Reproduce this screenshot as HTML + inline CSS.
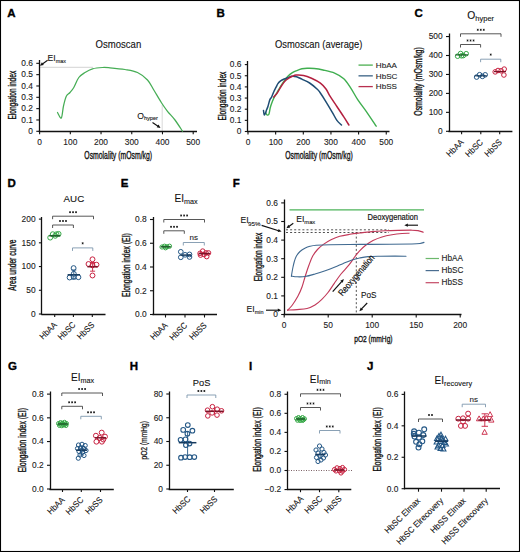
<!DOCTYPE html>
<html><head><meta charset="utf-8"><style>
html,body{margin:0;padding:0;background:#fff;}
svg{display:block;}
text{font-family:"Liberation Sans", sans-serif;}
</style></head><body>
<svg width="520" height="552" viewBox="0 0 520 552">
<rect x="0" y="0" width="520" height="552" fill="#fff"/>
<text x="7.2" y="17" font-size="11.5" text-anchor="start" font-weight="bold" fill="#000" stroke="#000" stroke-width="0.35">A</text>
<text x="118.4" y="48" font-size="10.3" text-anchor="middle" font-weight="normal" fill="#111" textLength="45.6" lengthAdjust="spacingAndGlyphs" stroke="#111" stroke-width="0.1">Osmoscan</text>
<line x1="40" y1="67.3" x2="93" y2="67.3" stroke="#c8c8c8" stroke-width="0.8" />
<line x1="162.2" y1="104.8" x2="162.2" y2="131" stroke="#d0d0d0" stroke-width="0.8" />
<line x1="39.5" y1="60" x2="39.5" y2="131.9" stroke="#111" stroke-width="1.3" />
<line x1="36.3" y1="131.3" x2="39.3" y2="131.3" stroke="#111" stroke-width="1.1" />
<text x="33" y="134.1" font-size="8.4" text-anchor="end" font-weight="normal" fill="#1a1a1a"  stroke="#1a1a1a" stroke-width="0.1">0</text>
<line x1="36.3" y1="119.97" x2="39.3" y2="119.97" stroke="#111" stroke-width="1.1" />
<text x="33" y="122.77" font-size="8.4" text-anchor="end" font-weight="normal" fill="#1a1a1a"  stroke="#1a1a1a" stroke-width="0.1">0.1</text>
<line x1="36.3" y1="108.64" x2="39.3" y2="108.64" stroke="#111" stroke-width="1.1" />
<text x="33" y="111.44" font-size="8.4" text-anchor="end" font-weight="normal" fill="#1a1a1a"  stroke="#1a1a1a" stroke-width="0.1">0.2</text>
<line x1="36.3" y1="97.31" x2="39.3" y2="97.31" stroke="#111" stroke-width="1.1" />
<text x="33" y="100.11" font-size="8.4" text-anchor="end" font-weight="normal" fill="#1a1a1a"  stroke="#1a1a1a" stroke-width="0.1">0.3</text>
<line x1="36.3" y1="85.98" x2="39.3" y2="85.98" stroke="#111" stroke-width="1.1" />
<text x="33" y="88.78" font-size="8.4" text-anchor="end" font-weight="normal" fill="#1a1a1a"  stroke="#1a1a1a" stroke-width="0.1">0.4</text>
<line x1="36.3" y1="74.65" x2="39.3" y2="74.65" stroke="#111" stroke-width="1.1" />
<text x="33" y="77.45" font-size="8.4" text-anchor="end" font-weight="normal" fill="#1a1a1a"  stroke="#1a1a1a" stroke-width="0.1">0.5</text>
<line x1="36.3" y1="63.32" x2="39.3" y2="63.32" stroke="#111" stroke-width="1.1" />
<text x="33" y="66.12" font-size="8.4" text-anchor="end" font-weight="normal" fill="#1a1a1a"  stroke="#1a1a1a" stroke-width="0.1">0.6</text>
<line x1="38.7" y1="131.5" x2="197" y2="131.5" stroke="#111" stroke-width="1.3" />
<line x1="39.6" y1="131.3" x2="39.6" y2="134.3" stroke="#111" stroke-width="1.1" />
<text x="39.6" y="145.2" font-size="8.4" text-anchor="middle" font-weight="normal" fill="#222"  stroke="#222" stroke-width="0.1">0</text>
<line x1="70.32" y1="131.3" x2="70.32" y2="134.3" stroke="#111" stroke-width="1.1" />
<text x="70.32" y="145.2" font-size="8.4" text-anchor="middle" font-weight="normal" fill="#222"  stroke="#222" stroke-width="0.1">100</text>
<line x1="101.04" y1="131.3" x2="101.04" y2="134.3" stroke="#111" stroke-width="1.1" />
<text x="101.04" y="145.2" font-size="8.4" text-anchor="middle" font-weight="normal" fill="#222"  stroke="#222" stroke-width="0.1">200</text>
<line x1="131.76" y1="131.3" x2="131.76" y2="134.3" stroke="#111" stroke-width="1.1" />
<text x="131.76" y="145.2" font-size="8.4" text-anchor="middle" font-weight="normal" fill="#222"  stroke="#222" stroke-width="0.1">300</text>
<line x1="162.48" y1="131.3" x2="162.48" y2="134.3" stroke="#111" stroke-width="1.1" />
<text x="162.48" y="145.2" font-size="8.4" text-anchor="middle" font-weight="normal" fill="#222"  stroke="#222" stroke-width="0.1">400</text>
<line x1="193.2" y1="131.3" x2="193.2" y2="134.3" stroke="#111" stroke-width="1.1" />
<text x="193.2" y="145.2" font-size="8.4" text-anchor="middle" font-weight="normal" fill="#222"  stroke="#222" stroke-width="0.1">500</text>
<text x="118.2" y="158.5" font-size="10" text-anchor="middle" fill="#111" stroke="#111" stroke-width="0.34" textLength="67.7" lengthAdjust="spacingAndGlyphs">Osmolality (mOsm/kg)</text>
<text transform="translate(15.8,95.2) rotate(-90)" font-size="10" text-anchor="middle" fill="#111" stroke="#111" stroke-width="0.34" textLength="48.8" lengthAdjust="spacingAndGlyphs">Elongation index</text>
<path d="M57.5,112.5 C58.13,113.42 60.3,119.08 61.3,118 C62.3,116.92 62.67,109.62 63.5,106 C64.33,102.38 65.22,98.55 66.3,96.3 C67.38,94.05 68.75,93.97 70,92.5 C71.25,91.03 72.33,90 73.8,87.5 C75.27,85 76.93,80 78.8,77.5 C80.67,75 82.72,73.95 85,72.5 C87.28,71.05 89.58,69.63 92.5,68.8 C95.42,67.97 99.58,67.67 102.5,67.5 C105.42,67.33 106.25,67.47 110,67.8 C113.75,68.13 120.42,68.72 125,69.5 C129.58,70.28 133.75,70.75 137.5,72.5 C141.25,74.25 144.78,77.08 147.5,80 C150.22,82.92 151.5,86.25 153.8,90 C156.1,93.75 159.02,98.95 161.3,102.5 C163.58,106.05 165.22,108.38 167.5,111.3 C169.78,114.22 172.5,116.68 175,120 C177.5,123.32 181.25,129.33 182.5,131.2" fill="none" stroke="#46ad55" stroke-width="1.25" stroke-linejoin="round" stroke-linecap="round" />
<text x="47.6" y="61.2" font-size="8.6" fill="#111" stroke="#111" stroke-width="0.1">EI<tspan font-size="5.4" dy="1.5">max</tspan></text>
<line x1="47.6" y1="60.3" x2="42.44" y2="63.92" stroke="#111" stroke-width="1.15" />
<polygon points="39.9,65.7 41.92,62.31 43.78,64.96" fill="#111"/>
<text x="137.2" y="118.6" font-size="8.6" fill="#111" stroke="#111" stroke-width="0.1">O<tspan font-size="5.6" dy="1.5">hyper</tspan></text>
<line x1="152.5" y1="122.5" x2="158.02" y2="126.18" stroke="#111" stroke-width="1.15" />
<polygon points="160.6,127.9 156.71,127.25 158.5,124.56" fill="#111"/>
<text x="216.5" y="17.1" font-size="11.5" text-anchor="start" font-weight="bold" fill="#000" stroke="#000" stroke-width="0.35">B</text>
<text x="318.7" y="48" font-size="10.3" text-anchor="middle" font-weight="normal" fill="#111" textLength="87.4" lengthAdjust="spacingAndGlyphs" stroke="#111" stroke-width="0.1">Osmoscan (average)</text>
<line x1="247.5" y1="61" x2="247.5" y2="132.1" stroke="#111" stroke-width="1.3" />
<line x1="244.8" y1="131.5" x2="247.8" y2="131.5" stroke="#111" stroke-width="1.1" />
<text x="241.5" y="134.3" font-size="8.4" text-anchor="end" font-weight="normal" fill="#1a1a1a"  stroke="#1a1a1a" stroke-width="0.1">0</text>
<line x1="244.8" y1="120.35" x2="247.8" y2="120.35" stroke="#111" stroke-width="1.1" />
<text x="241.5" y="123.15" font-size="8.4" text-anchor="end" font-weight="normal" fill="#1a1a1a"  stroke="#1a1a1a" stroke-width="0.1">0.1</text>
<line x1="244.8" y1="109.2" x2="247.8" y2="109.2" stroke="#111" stroke-width="1.1" />
<text x="241.5" y="112" font-size="8.4" text-anchor="end" font-weight="normal" fill="#1a1a1a"  stroke="#1a1a1a" stroke-width="0.1">0.2</text>
<line x1="244.8" y1="98.05" x2="247.8" y2="98.05" stroke="#111" stroke-width="1.1" />
<text x="241.5" y="100.85" font-size="8.4" text-anchor="end" font-weight="normal" fill="#1a1a1a"  stroke="#1a1a1a" stroke-width="0.1">0.3</text>
<line x1="244.8" y1="86.9" x2="247.8" y2="86.9" stroke="#111" stroke-width="1.1" />
<text x="241.5" y="89.7" font-size="8.4" text-anchor="end" font-weight="normal" fill="#1a1a1a"  stroke="#1a1a1a" stroke-width="0.1">0.4</text>
<line x1="244.8" y1="75.75" x2="247.8" y2="75.75" stroke="#111" stroke-width="1.1" />
<text x="241.5" y="78.55" font-size="8.4" text-anchor="end" font-weight="normal" fill="#1a1a1a"  stroke="#1a1a1a" stroke-width="0.1">0.5</text>
<line x1="244.8" y1="64.6" x2="247.8" y2="64.6" stroke="#111" stroke-width="1.1" />
<text x="241.5" y="67.4" font-size="8.4" text-anchor="end" font-weight="normal" fill="#1a1a1a"  stroke="#1a1a1a" stroke-width="0.1">0.6</text>
<line x1="247.2" y1="131.5" x2="389.5" y2="131.5" stroke="#111" stroke-width="1.3" />
<line x1="248" y1="131.5" x2="248" y2="134.5" stroke="#111" stroke-width="1.1" />
<text x="248" y="145.4" font-size="8.4" text-anchor="middle" font-weight="normal" fill="#222"  stroke="#222" stroke-width="0.1">0</text>
<line x1="275.65" y1="131.5" x2="275.65" y2="134.5" stroke="#111" stroke-width="1.1" />
<text x="275.65" y="145.4" font-size="8.4" text-anchor="middle" font-weight="normal" fill="#222"  stroke="#222" stroke-width="0.1">100</text>
<line x1="303.3" y1="131.5" x2="303.3" y2="134.5" stroke="#111" stroke-width="1.1" />
<text x="303.3" y="145.4" font-size="8.4" text-anchor="middle" font-weight="normal" fill="#222"  stroke="#222" stroke-width="0.1">200</text>
<line x1="330.95" y1="131.5" x2="330.95" y2="134.5" stroke="#111" stroke-width="1.1" />
<text x="330.95" y="145.4" font-size="8.4" text-anchor="middle" font-weight="normal" fill="#222"  stroke="#222" stroke-width="0.1">300</text>
<line x1="358.6" y1="131.5" x2="358.6" y2="134.5" stroke="#111" stroke-width="1.1" />
<text x="358.6" y="145.4" font-size="8.4" text-anchor="middle" font-weight="normal" fill="#222"  stroke="#222" stroke-width="0.1">400</text>
<line x1="386.25" y1="131.5" x2="386.25" y2="134.5" stroke="#111" stroke-width="1.1" />
<text x="386.25" y="145.4" font-size="8.4" text-anchor="middle" font-weight="normal" fill="#222"  stroke="#222" stroke-width="0.1">500</text>
<text x="319" y="158.5" font-size="10" text-anchor="middle" fill="#111" stroke="#111" stroke-width="0.34" textLength="67.5" lengthAdjust="spacingAndGlyphs">Osmolality (mOsm/kg)</text>
<text transform="translate(225.6,96) rotate(-90)" font-size="10" text-anchor="middle" fill="#111" stroke="#111" stroke-width="0.34" textLength="48.8" lengthAdjust="spacingAndGlyphs">Elongation index</text>
<path d="M265.5,112.5 C265.75,112.88 266.43,114.5 267,114.8 C267.57,115.1 268.37,115.43 268.9,114.3 C269.43,113.17 269.75,109.8 270.2,108 C270.65,106.2 271,105.15 271.6,103.5 C272.2,101.85 272.9,99.92 273.8,98.1 C274.7,96.28 275.87,94.57 277,92.6 C278.13,90.63 279.4,88.25 280.6,86.3 C281.8,84.35 282.98,82.57 284.2,80.9 C285.42,79.23 286.53,77.67 287.9,76.3 C289.27,74.93 291.05,73.6 292.4,72.7 C293.75,71.8 294.42,71.57 296,70.9 C297.58,70.23 299.9,69.13 301.9,68.7 C303.9,68.27 305.95,68.33 308,68.3 C310.05,68.27 311.7,68.22 314.2,68.5 C316.7,68.78 319.6,69.23 323,70 C326.4,70.77 331.13,71.63 334.6,73.1 C338.07,74.57 341.1,76.3 343.8,78.8 C346.5,81.3 348.48,84.63 350.8,88.1 C353.12,91.57 355.02,95.57 357.7,99.6 C360.38,103.63 363.82,107.87 366.9,112.3 C369.98,116.73 374.65,123.88 376.2,126.2" fill="none" stroke="#3fae4f" stroke-width="1.4" stroke-linejoin="round" stroke-linecap="round" />
<path d="M263.5,110.5 C263.62,111.22 263.87,114.38 264.2,114.8 C264.53,115.22 265.1,113.83 265.5,113 C265.9,112.17 266.18,110.93 266.6,109.8 C267.02,108.67 267.47,107.85 268,106.2 C268.53,104.55 269.2,101.42 269.8,99.9 C270.4,98.38 270.93,98.47 271.6,97.1 C272.27,95.73 273.05,93.35 273.8,91.7 C274.55,90.05 275.42,88.55 276.1,87.2 C276.78,85.85 277.15,84.65 277.9,83.6 C278.65,82.55 279.55,81.67 280.6,80.9 C281.65,80.13 282.98,79.53 284.2,79 C285.42,78.47 286.68,78.15 287.9,77.7 C289.12,77.25 290.45,76.5 291.5,76.3 C292.55,76.1 293.15,76.35 294.2,76.5 C295.25,76.65 296.52,76.75 297.8,77.2 C299.08,77.65 299.93,78.23 301.9,79.2 C303.87,80.17 307.03,81.33 309.6,83 C312.17,84.67 315.57,87.62 317.3,89.2 C319.03,90.78 318.65,90.57 320,92.5 C321.35,94.43 323.35,97.5 325.4,100.8 C327.45,104.1 330.38,109.03 332.3,112.3 C334.22,115.57 335.37,118.28 336.9,120.4 C338.43,122.52 340.73,124.23 341.5,125" fill="none" stroke="#1f4d74" stroke-width="1.5" stroke-linejoin="round" stroke-linecap="round" />
<path d="M273.8,97.1 C274.42,96.35 276.22,94.48 277.5,92.6 C278.78,90.72 280.23,87.75 281.5,85.8 C282.77,83.85 283.88,82.18 285.1,80.9 C286.32,79.62 287.58,78.87 288.8,78.1 C290.02,77.33 291.2,76.82 292.4,76.3 C293.6,75.78 294.15,75.15 296,75 C297.85,74.85 300.92,74.87 303.5,75.4 C306.08,75.93 308.68,76.92 311.5,78.2 C314.32,79.48 317.98,81.3 320.4,83.1 C322.82,84.9 324.4,86.82 326,89 C327.6,91.18 328.18,93.28 330,96.2 C331.82,99.12 334.6,103.05 336.9,106.5 C339.2,109.95 341.8,113.82 343.8,116.9 C345.8,119.98 348.05,123.65 348.9,125" fill="none" stroke="#b3203f" stroke-width="1.5" stroke-linejoin="round" stroke-linecap="round" />
<line x1="358.5" y1="65.1" x2="372.8" y2="65.1" stroke="#4caf50" stroke-width="1.3" />
<text x="375.8" y="67.8" font-size="8.1" text-anchor="start" font-weight="normal" fill="#1a1a1a" stroke="#1a1a1a" stroke-width="0.1">HbAA</text>
<line x1="358.5" y1="75.85" x2="372.8" y2="75.85" stroke="#3a6285" stroke-width="1.3" />
<text x="375.8" y="78.55" font-size="8.1" text-anchor="start" font-weight="normal" fill="#1a1a1a" stroke="#1a1a1a" stroke-width="0.1">HbSC</text>
<line x1="358.5" y1="86.6" x2="372.8" y2="86.6" stroke="#b8304f" stroke-width="1.3" />
<text x="375.8" y="89.3" font-size="8.1" text-anchor="start" font-weight="normal" fill="#1a1a1a" stroke="#1a1a1a" stroke-width="0.1">HbSS</text>
<text x="414.6" y="17.1" font-size="11.5" text-anchor="start" font-weight="bold" fill="#000" stroke="#000" stroke-width="0.35">C</text>
<text x="467.3" y="18.9" font-size="10.3" fill="#111" stroke="#111" stroke-width="0.1">O<tspan font-size="7.5" dy="1.9">hyper</tspan></text>
<line x1="449.5" y1="33.5" x2="449.5" y2="131.9" stroke="#111" stroke-width="1.3" />
<line x1="446" y1="131.3" x2="449" y2="131.3" stroke="#111" stroke-width="1.1" />
<text x="442.7" y="134.1" font-size="8.4" text-anchor="end" font-weight="normal" fill="#1a1a1a"  stroke="#1a1a1a" stroke-width="0.1">0</text>
<line x1="446" y1="112.35" x2="449" y2="112.35" stroke="#111" stroke-width="1.1" />
<text x="442.7" y="115.15" font-size="8.4" text-anchor="end" font-weight="normal" fill="#1a1a1a"  stroke="#1a1a1a" stroke-width="0.1">100</text>
<line x1="446" y1="93.4" x2="449" y2="93.4" stroke="#111" stroke-width="1.1" />
<text x="442.7" y="96.2" font-size="8.4" text-anchor="end" font-weight="normal" fill="#1a1a1a"  stroke="#1a1a1a" stroke-width="0.1">200</text>
<line x1="446" y1="74.45" x2="449" y2="74.45" stroke="#111" stroke-width="1.1" />
<text x="442.7" y="77.25" font-size="8.4" text-anchor="end" font-weight="normal" fill="#1a1a1a"  stroke="#1a1a1a" stroke-width="0.1">300</text>
<line x1="446" y1="55.5" x2="449" y2="55.5" stroke="#111" stroke-width="1.1" />
<text x="442.7" y="58.3" font-size="8.4" text-anchor="end" font-weight="normal" fill="#1a1a1a"  stroke="#1a1a1a" stroke-width="0.1">400</text>
<line x1="446" y1="36.55" x2="449" y2="36.55" stroke="#111" stroke-width="1.1" />
<text x="442.7" y="39.35" font-size="8.4" text-anchor="end" font-weight="normal" fill="#1a1a1a"  stroke="#1a1a1a" stroke-width="0.1">500</text>
<line x1="448.4" y1="131.5" x2="512.4" y2="131.5" stroke="#111" stroke-width="1.3" />
<line x1="461.6" y1="131.3" x2="461.6" y2="134.3" stroke="#111" stroke-width="1.1" />
<line x1="480.8" y1="131.3" x2="480.8" y2="134.3" stroke="#111" stroke-width="1.1" />
<line x1="499.7" y1="131.3" x2="499.7" y2="134.3" stroke="#111" stroke-width="1.1" />
<text transform="translate(464.3,142.9) rotate(-45)" font-size="8.6" text-anchor="end" fill="#111" stroke="#111" stroke-width="0.1" textLength="20.51" lengthAdjust="spacingAndGlyphs">HbAA</text>
<text transform="translate(483.5,142.9) rotate(-45)" font-size="8.6" text-anchor="end" fill="#111" stroke="#111" stroke-width="0.1" textLength="20.94" lengthAdjust="spacingAndGlyphs">HbSC</text>
<text transform="translate(502.4,142.9) rotate(-45)" font-size="8.6" text-anchor="end" fill="#111" stroke="#111" stroke-width="0.1" textLength="20.51" lengthAdjust="spacingAndGlyphs">HbSS</text>
<text transform="translate(422.3,81.5) rotate(-90)" font-size="10" text-anchor="middle" fill="#111" stroke="#111" stroke-width="0.34" textLength="68.5" lengthAdjust="spacingAndGlyphs">Osmolality (mOsm/kg)</text>
<path d="M460.5,36.8 V33.8 H501 V36.8" fill="none" stroke="#444" stroke-width="0.9"/>
<path d="M477.75,28.8L477.75,30.8M476.88,29.3L478.62,30.3M478.62,29.3L476.88,30.3" stroke="#111" stroke-width="0.75" fill="none"/>
<path d="M480.75,28.8L480.75,30.8M479.88,29.3L481.62,30.3M481.62,29.3L479.88,30.3" stroke="#111" stroke-width="0.75" fill="none"/>
<path d="M483.75,28.8L483.75,30.8M482.88,29.3L484.62,30.3M484.62,29.3L482.88,30.3" stroke="#111" stroke-width="0.75" fill="none"/>
<path d="M460.5,47.5 V44.5 H480.6 V47.5" fill="none" stroke="#444" stroke-width="0.9"/>
<path d="M467.55,39.5L467.55,41.5M466.68,40L468.42,41M468.42,40L466.68,41" stroke="#111" stroke-width="0.75" fill="none"/>
<path d="M470.55,39.5L470.55,41.5M469.68,40L471.42,41M471.42,40L469.68,41" stroke="#111" stroke-width="0.75" fill="none"/>
<path d="M473.55,39.5L473.55,41.5M472.68,40L474.42,41M474.42,40L472.68,41" stroke="#111" stroke-width="0.75" fill="none"/>
<path d="M480.6,62.2 V59.2 H500.8 V62.2" fill="none" stroke="#7d96ad" stroke-width="0.9"/>
<path d="M490.7,53.6L490.7,55.6M489.83,54.1L491.57,55.1M491.57,54.1L489.83,55.1" stroke="#111" stroke-width="0.75" fill="none"/>
<circle cx="457.6" cy="56.2" r="2.3" fill="none" stroke="#35a846" stroke-width="1.0"/>
<circle cx="460.6" cy="53.5" r="2.3" fill="none" stroke="#35a846" stroke-width="1.0"/>
<circle cx="463.3" cy="55.6" r="2.3" fill="none" stroke="#35a846" stroke-width="1.0"/>
<circle cx="466.2" cy="53.7" r="2.3" fill="none" stroke="#35a846" stroke-width="1.0"/>
<circle cx="461.5" cy="55.8" r="2.3" fill="none" stroke="#35a846" stroke-width="1.0"/>
<line x1="455.6" y1="54.9" x2="468" y2="54.9" stroke="#1e5c2a" stroke-width="1.2" />
<circle cx="476.6" cy="77.1" r="2.3" fill="none" stroke="#255886" stroke-width="1.0"/>
<circle cx="479.6" cy="74.7" r="2.3" fill="none" stroke="#255886" stroke-width="1.0"/>
<circle cx="482.4" cy="76.4" r="2.3" fill="none" stroke="#255886" stroke-width="1.0"/>
<circle cx="485.2" cy="74.8" r="2.3" fill="none" stroke="#255886" stroke-width="1.0"/>
<line x1="474.8" y1="75.8" x2="486.8" y2="75.8" stroke="#163a5e" stroke-width="1.2" />
<circle cx="495.2" cy="71.9" r="2.3" fill="none" stroke="#c8203f" stroke-width="1.0"/>
<circle cx="498" cy="70.5" r="2.3" fill="none" stroke="#c8203f" stroke-width="1.0"/>
<circle cx="501.1" cy="70.8" r="2.3" fill="none" stroke="#c8203f" stroke-width="1.0"/>
<circle cx="504.2" cy="69.1" r="2.3" fill="none" stroke="#c8203f" stroke-width="1.0"/>
<circle cx="503.9" cy="75" r="2.3" fill="none" stroke="#c8203f" stroke-width="1.0"/>
<line x1="494" y1="71.6" x2="506" y2="71.6" stroke="#7a1428" stroke-width="1.2" />
<text x="7.6" y="186.8" font-size="11.5" text-anchor="start" font-weight="bold" fill="#000" stroke="#000" stroke-width="0.35">D</text>
<text x="73.9" y="201.6" font-size="9.8" text-anchor="middle" font-weight="normal" fill="#111" textLength="20.6" lengthAdjust="spacingAndGlyphs" stroke="#111" stroke-width="0.1">AUC</text>
<line x1="41.5" y1="217" x2="41.5" y2="314.6" stroke="#111" stroke-width="1.3" />
<line x1="38.9" y1="314" x2="41.9" y2="314" stroke="#111" stroke-width="1.1" />
<text x="35.6" y="316.8" font-size="8.4" text-anchor="end" font-weight="normal" fill="#1a1a1a"  stroke="#1a1a1a" stroke-width="0.1">0</text>
<line x1="38.9" y1="290.27" x2="41.9" y2="290.27" stroke="#111" stroke-width="1.1" />
<text x="35.6" y="293.07" font-size="8.4" text-anchor="end" font-weight="normal" fill="#1a1a1a"  stroke="#1a1a1a" stroke-width="0.1">50</text>
<line x1="38.9" y1="266.55" x2="41.9" y2="266.55" stroke="#111" stroke-width="1.1" />
<text x="35.6" y="269.35" font-size="8.4" text-anchor="end" font-weight="normal" fill="#1a1a1a"  stroke="#1a1a1a" stroke-width="0.1">100</text>
<line x1="38.9" y1="242.82" x2="41.9" y2="242.82" stroke="#111" stroke-width="1.1" />
<text x="35.6" y="245.62" font-size="8.4" text-anchor="end" font-weight="normal" fill="#1a1a1a"  stroke="#1a1a1a" stroke-width="0.1">150</text>
<line x1="38.9" y1="219.1" x2="41.9" y2="219.1" stroke="#111" stroke-width="1.1" />
<text x="35.6" y="221.9" font-size="8.4" text-anchor="end" font-weight="normal" fill="#1a1a1a"  stroke="#1a1a1a" stroke-width="0.1">200</text>
<line x1="41.3" y1="314.5" x2="105.5" y2="314.5" stroke="#111" stroke-width="1.3" />
<line x1="54.7" y1="314" x2="54.7" y2="317" stroke="#111" stroke-width="1.1" />
<line x1="73.4" y1="314" x2="73.4" y2="317" stroke="#111" stroke-width="1.1" />
<line x1="92.3" y1="314" x2="92.3" y2="317" stroke="#111" stroke-width="1.1" />
<text transform="translate(57.4,325.6) rotate(-45)" font-size="8.6" text-anchor="end" fill="#111" stroke="#111" stroke-width="0.1" textLength="20.51" lengthAdjust="spacingAndGlyphs">HbAA</text>
<text transform="translate(76.1,325.6) rotate(-45)" font-size="8.6" text-anchor="end" fill="#111" stroke="#111" stroke-width="0.1" textLength="20.94" lengthAdjust="spacingAndGlyphs">HbSC</text>
<text transform="translate(95,325.6) rotate(-45)" font-size="8.6" text-anchor="end" fill="#111" stroke="#111" stroke-width="0.1" textLength="20.51" lengthAdjust="spacingAndGlyphs">HbSS</text>
<text transform="translate(16.2,265.1) rotate(-90)" font-size="10" text-anchor="middle" fill="#111" stroke="#111" stroke-width="0.34" textLength="51.2" lengthAdjust="spacingAndGlyphs">Area under curve</text>
<path d="M52.6,219.2 V216.2 H93.5 V219.2" fill="none" stroke="#444" stroke-width="0.9"/>
<path d="M70.05,211.2L70.05,213.2M69.18,211.7L70.92,212.7M70.92,211.7L69.18,212.7" stroke="#111" stroke-width="0.75" fill="none"/>
<path d="M73.05,211.2L73.05,213.2M72.18,211.7L73.92,212.7M73.92,211.7L72.18,212.7" stroke="#111" stroke-width="0.75" fill="none"/>
<path d="M76.05,211.2L76.05,213.2M75.18,211.7L76.92,212.7M76.92,211.7L75.18,212.7" stroke="#111" stroke-width="0.75" fill="none"/>
<path d="M52.6,228 V225 H73.4 V228" fill="none" stroke="#444" stroke-width="0.9"/>
<path d="M60,220L60,222M59.13,220.5L60.87,221.5M60.87,220.5L59.13,221.5" stroke="#111" stroke-width="0.75" fill="none"/>
<path d="M63,220L63,222M62.13,220.5L63.87,221.5M63.87,220.5L62.13,221.5" stroke="#111" stroke-width="0.75" fill="none"/>
<path d="M66,220L66,222M65.13,220.5L66.87,221.5M66.87,220.5L65.13,221.5" stroke="#111" stroke-width="0.75" fill="none"/>
<path d="M72.5,250.9 V247.9 H92.8 V250.9" fill="none" stroke="#7d96ad" stroke-width="0.9"/>
<path d="M82.65,242.3L82.65,244.3M81.78,242.8L83.52,243.8M83.52,242.8L81.78,243.8" stroke="#111" stroke-width="0.75" fill="none"/>
<circle cx="50.2" cy="237.6" r="2.45" fill="none" stroke="#35a846" stroke-width="1.0"/>
<circle cx="52.8" cy="234.2" r="2.45" fill="none" stroke="#35a846" stroke-width="1.0"/>
<circle cx="55.2" cy="235.8" r="2.45" fill="none" stroke="#35a846" stroke-width="1.0"/>
<circle cx="58.6" cy="233.9" r="2.45" fill="none" stroke="#35a846" stroke-width="1.0"/>
<circle cx="56.5" cy="234.2" r="2.45" fill="none" stroke="#35a846" stroke-width="1.0"/>
<line x1="49.3" y1="235.8" x2="60.3" y2="235.8" stroke="#1e5c2a" stroke-width="1.5" />
<circle cx="73.6" cy="268.1" r="2.45" fill="none" stroke="#255886" stroke-width="1.0"/>
<circle cx="69.6" cy="277.5" r="2.45" fill="none" stroke="#255886" stroke-width="1.0"/>
<circle cx="73.6" cy="276.8" r="2.45" fill="none" stroke="#255886" stroke-width="1.0"/>
<circle cx="78.4" cy="277.2" r="2.45" fill="none" stroke="#255886" stroke-width="1.0"/>
<circle cx="73.8" cy="273.8" r="2.45" fill="none" stroke="#255886" stroke-width="1.0"/>
<line x1="67.6" y1="274.8" x2="80" y2="274.8" stroke="#163a5e" stroke-width="1.5" />
<line x1="73.8" y1="270" x2="73.8" y2="279" stroke="#255886" stroke-width="0.9" />
<line x1="71.3" y1="270" x2="76.3" y2="270" stroke="#255886" stroke-width="0.9" />
<line x1="71.3" y1="279" x2="76.3" y2="279" stroke="#255886" stroke-width="0.9" />
<circle cx="92.5" cy="259.3" r="2.45" fill="none" stroke="#c8203f" stroke-width="1.0"/>
<circle cx="88.5" cy="264" r="2.45" fill="none" stroke="#c8203f" stroke-width="1.0"/>
<circle cx="96.5" cy="264.7" r="2.45" fill="none" stroke="#c8203f" stroke-width="1.0"/>
<circle cx="92.5" cy="265.4" r="2.45" fill="none" stroke="#c8203f" stroke-width="1.0"/>
<circle cx="92.5" cy="275.5" r="2.45" fill="none" stroke="#c8203f" stroke-width="1.0"/>
<line x1="87.4" y1="266.7" x2="97.8" y2="266.7" stroke="#7a1428" stroke-width="1.5" />
<line x1="92.6" y1="262.5" x2="92.6" y2="271.2" stroke="#c8203f" stroke-width="0.9" />
<line x1="90.1" y1="262.5" x2="95.1" y2="262.5" stroke="#c8203f" stroke-width="0.9" />
<line x1="90.1" y1="271.2" x2="95.1" y2="271.2" stroke="#c8203f" stroke-width="0.9" />
<text x="120.8" y="186.8" font-size="11.5" text-anchor="start" font-weight="bold" fill="#000" stroke="#000" stroke-width="0.35">E</text>
<text x="174.6" y="201.9" font-size="10" fill="#111" stroke="#111" stroke-width="0.1">EI<tspan font-size="7.2" dy="1.9">max</tspan></text>
<line x1="153.5" y1="217" x2="153.5" y2="315.1" stroke="#111" stroke-width="1.3" />
<line x1="150" y1="314.5" x2="153" y2="314.5" stroke="#111" stroke-width="1.1" />
<text x="146.7" y="317.3" font-size="8.4" text-anchor="end" font-weight="normal" fill="#1a1a1a"  stroke="#1a1a1a" stroke-width="0.1">0.0</text>
<line x1="150" y1="290.75" x2="153" y2="290.75" stroke="#111" stroke-width="1.1" />
<text x="146.7" y="293.55" font-size="8.4" text-anchor="end" font-weight="normal" fill="#1a1a1a"  stroke="#1a1a1a" stroke-width="0.1">0.2</text>
<line x1="150" y1="267" x2="153" y2="267" stroke="#111" stroke-width="1.1" />
<text x="146.7" y="269.8" font-size="8.4" text-anchor="end" font-weight="normal" fill="#1a1a1a"  stroke="#1a1a1a" stroke-width="0.1">0.4</text>
<line x1="150" y1="243.25" x2="153" y2="243.25" stroke="#111" stroke-width="1.1" />
<text x="146.7" y="246.05" font-size="8.4" text-anchor="end" font-weight="normal" fill="#1a1a1a"  stroke="#1a1a1a" stroke-width="0.1">0.6</text>
<line x1="150" y1="219.5" x2="153" y2="219.5" stroke="#111" stroke-width="1.1" />
<text x="146.7" y="222.3" font-size="8.4" text-anchor="end" font-weight="normal" fill="#1a1a1a"  stroke="#1a1a1a" stroke-width="0.1">0.8</text>
<line x1="152.4" y1="314.5" x2="217" y2="314.5" stroke="#111" stroke-width="1.3" />
<line x1="165.5" y1="314.5" x2="165.5" y2="317.5" stroke="#111" stroke-width="1.1" />
<line x1="185" y1="314.5" x2="185" y2="317.5" stroke="#111" stroke-width="1.1" />
<line x1="204.5" y1="314.5" x2="204.5" y2="317.5" stroke="#111" stroke-width="1.1" />
<text transform="translate(168.2,326.1) rotate(-45)" font-size="8.6" text-anchor="end" fill="#111" stroke="#111" stroke-width="0.1" textLength="20.51" lengthAdjust="spacingAndGlyphs">HbAA</text>
<text transform="translate(187.7,326.1) rotate(-45)" font-size="8.6" text-anchor="end" fill="#111" stroke="#111" stroke-width="0.1" textLength="20.94" lengthAdjust="spacingAndGlyphs">HbSC</text>
<text transform="translate(207.2,326.1) rotate(-45)" font-size="8.6" text-anchor="end" fill="#111" stroke="#111" stroke-width="0.1" textLength="20.51" lengthAdjust="spacingAndGlyphs">HbSS</text>
<text transform="translate(130.2,265) rotate(-90)" font-size="10" text-anchor="middle" fill="#111" stroke="#111" stroke-width="0.34" textLength="63.8" lengthAdjust="spacingAndGlyphs">Elongation index (EI)</text>
<path d="M163.8,222.5 V219.5 H204.5 V222.5" fill="none" stroke="#444" stroke-width="0.9"/>
<path d="M181.15,214.5L181.15,216.5M180.28,215L182.02,216M182.02,215L180.28,216" stroke="#111" stroke-width="0.75" fill="none"/>
<path d="M184.15,214.5L184.15,216.5M183.28,215L185.02,216M185.02,215L183.28,216" stroke="#111" stroke-width="0.75" fill="none"/>
<path d="M187.15,214.5L187.15,216.5M186.28,215L188.02,216M188.02,215L186.28,216" stroke="#111" stroke-width="0.75" fill="none"/>
<path d="M163.8,233.8 V230.8 H184.3 V233.8" fill="none" stroke="#444" stroke-width="0.9"/>
<path d="M171.05,225.8L171.05,227.8M170.18,226.3L171.92,227.3M171.92,226.3L170.18,227.3" stroke="#111" stroke-width="0.75" fill="none"/>
<path d="M174.05,225.8L174.05,227.8M173.18,226.3L174.92,227.3M174.92,226.3L173.18,227.3" stroke="#111" stroke-width="0.75" fill="none"/>
<path d="M177.05,225.8L177.05,227.8M176.18,226.3L177.92,227.3M177.92,226.3L176.18,227.3" stroke="#111" stroke-width="0.75" fill="none"/>
<path d="M183.3,245.5 V242.5 H204.3 V245.5" fill="none" stroke="#7d96ad" stroke-width="0.9"/>
<text x="193.8" y="240.3" font-size="8" text-anchor="middle" font-weight="normal" fill="#222"  stroke="#222" stroke-width="0.1">ns</text>
<circle cx="162" cy="247" r="2.1" fill="none" stroke="#35a846" stroke-width="1.0"/>
<circle cx="164.5" cy="246.2" r="2.1" fill="none" stroke="#35a846" stroke-width="1.0"/>
<circle cx="167" cy="246.8" r="2.1" fill="none" stroke="#35a846" stroke-width="1.0"/>
<circle cx="169.5" cy="246.2" r="2.1" fill="none" stroke="#35a846" stroke-width="1.0"/>
<circle cx="165.5" cy="247.8" r="2.1" fill="none" stroke="#35a846" stroke-width="1.0"/>
<line x1="160.8" y1="246.8" x2="170.8" y2="246.8" stroke="#1e5c2a" stroke-width="1.5" />
<circle cx="180.8" cy="251.8" r="2.35" fill="none" stroke="#255886" stroke-width="1.0"/>
<circle cx="180.8" cy="257.3" r="2.35" fill="none" stroke="#255886" stroke-width="1.0"/>
<circle cx="185.1" cy="254.8" r="2.35" fill="none" stroke="#255886" stroke-width="1.0"/>
<circle cx="189.5" cy="254.4" r="2.35" fill="none" stroke="#255886" stroke-width="1.0"/>
<circle cx="189.5" cy="257" r="2.35" fill="none" stroke="#255886" stroke-width="1.0"/>
<line x1="180.3" y1="255.1" x2="191.3" y2="255.1" stroke="#163a5e" stroke-width="1.5" />
<circle cx="200.1" cy="253.3" r="2.3" fill="none" stroke="#c8203f" stroke-width="1.0"/>
<circle cx="202.7" cy="251.1" r="2.3" fill="none" stroke="#c8203f" stroke-width="1.0"/>
<circle cx="206" cy="252.9" r="2.3" fill="none" stroke="#c8203f" stroke-width="1.0"/>
<circle cx="208.5" cy="252.9" r="2.3" fill="none" stroke="#c8203f" stroke-width="1.0"/>
<circle cx="200.5" cy="255.1" r="2.3" fill="none" stroke="#c8203f" stroke-width="1.0"/>
<circle cx="206.7" cy="256.6" r="2.3" fill="none" stroke="#c8203f" stroke-width="1.0"/>
<circle cx="204" cy="254.5" r="2.3" fill="none" stroke="#c8203f" stroke-width="1.0"/>
<line x1="199" y1="253.6" x2="210" y2="253.6" stroke="#7a1428" stroke-width="1.5" />
<text x="232.8" y="186.8" font-size="11.5" text-anchor="start" font-weight="bold" fill="#000" stroke="#000" stroke-width="0.35">F</text>
<line x1="284.5" y1="199.5" x2="284.5" y2="315.1" stroke="#111" stroke-width="1.3" />
<line x1="281.2" y1="314.5" x2="284.2" y2="314.5" stroke="#111" stroke-width="1.1" />
<text x="277.9" y="317.3" font-size="8.4" text-anchor="end" font-weight="normal" fill="#1a1a1a"  stroke="#1a1a1a" stroke-width="0.1">0</text>
<line x1="281.2" y1="295.9" x2="284.2" y2="295.9" stroke="#111" stroke-width="1.1" />
<text x="277.9" y="298.7" font-size="8.4" text-anchor="end" font-weight="normal" fill="#1a1a1a"  stroke="#1a1a1a" stroke-width="0.1">0.1</text>
<line x1="281.2" y1="277.3" x2="284.2" y2="277.3" stroke="#111" stroke-width="1.1" />
<text x="277.9" y="280.1" font-size="8.4" text-anchor="end" font-weight="normal" fill="#1a1a1a"  stroke="#1a1a1a" stroke-width="0.1">0.2</text>
<line x1="281.2" y1="258.7" x2="284.2" y2="258.7" stroke="#111" stroke-width="1.1" />
<text x="277.9" y="261.5" font-size="8.4" text-anchor="end" font-weight="normal" fill="#1a1a1a"  stroke="#1a1a1a" stroke-width="0.1">0.3</text>
<line x1="281.2" y1="240.1" x2="284.2" y2="240.1" stroke="#111" stroke-width="1.1" />
<text x="277.9" y="242.9" font-size="8.4" text-anchor="end" font-weight="normal" fill="#1a1a1a"  stroke="#1a1a1a" stroke-width="0.1">0.4</text>
<line x1="281.2" y1="221.5" x2="284.2" y2="221.5" stroke="#111" stroke-width="1.1" />
<text x="277.9" y="224.3" font-size="8.4" text-anchor="end" font-weight="normal" fill="#1a1a1a"  stroke="#1a1a1a" stroke-width="0.1">0.5</text>
<line x1="281.2" y1="202.9" x2="284.2" y2="202.9" stroke="#111" stroke-width="1.1" />
<text x="277.9" y="205.7" font-size="8.4" text-anchor="end" font-weight="normal" fill="#1a1a1a"  stroke="#1a1a1a" stroke-width="0.1">0.6</text>
<line x1="283.6" y1="314.5" x2="461.5" y2="314.5" stroke="#111" stroke-width="1.3" />
<line x1="284.2" y1="314.5" x2="284.2" y2="317.5" stroke="#111" stroke-width="1.1" />
<text x="284.2" y="328.4" font-size="8.4" text-anchor="middle" font-weight="normal" fill="#222"  stroke="#222" stroke-width="0.1">0</text>
<line x1="328.2" y1="314.5" x2="328.2" y2="317.5" stroke="#111" stroke-width="1.1" />
<text x="328.2" y="328.4" font-size="8.4" text-anchor="middle" font-weight="normal" fill="#222"  stroke="#222" stroke-width="0.1">50</text>
<line x1="372.2" y1="314.5" x2="372.2" y2="317.5" stroke="#111" stroke-width="1.1" />
<text x="372.2" y="328.4" font-size="8.4" text-anchor="middle" font-weight="normal" fill="#222"  stroke="#222" stroke-width="0.1">100</text>
<line x1="416.2" y1="314.5" x2="416.2" y2="317.5" stroke="#111" stroke-width="1.1" />
<text x="416.2" y="328.4" font-size="8.4" text-anchor="middle" font-weight="normal" fill="#222"  stroke="#222" stroke-width="0.1">150</text>
<line x1="460.2" y1="314.5" x2="460.2" y2="317.5" stroke="#111" stroke-width="1.1" />
<text x="460.2" y="328.4" font-size="8.4" text-anchor="middle" font-weight="normal" fill="#222"  stroke="#222" stroke-width="0.1">200</text>
<text x="373.4" y="342" font-size="9.3" text-anchor="middle" fill="#111" stroke="#111" stroke-width="0.34" textLength="38.3" lengthAdjust="spacingAndGlyphs">pO2 (mmHg)</text>
<text transform="translate(262,257) rotate(-90)" font-size="10" text-anchor="middle" fill="#111" stroke="#111" stroke-width="0.34" textLength="48.5" lengthAdjust="spacingAndGlyphs">Elongation index</text>
<line x1="289.5" y1="209.9" x2="424" y2="209.9" stroke="#4cb35a" stroke-width="1.35" />
<line x1="286" y1="229.8" x2="389" y2="229.8" stroke="#333" stroke-width="0.85" stroke-dasharray="2,2.1"/>
<line x1="286" y1="232.5" x2="389" y2="232.5" stroke="#333" stroke-width="0.85" stroke-dasharray="2,2.1"/>
<line x1="356.3" y1="232.5" x2="356.3" y2="314" stroke="#333" stroke-width="0.85" stroke-dasharray="2,2.1"/>
<path d="M287.6,310.1 C288.33,309.33 290.27,307.85 292,305.5 C293.73,303.15 296.33,299.08 298,296 C299.67,292.92 300.78,290.33 302,287 C303.22,283.67 304.13,279.67 305.3,276 C306.47,272.33 307.78,268.3 309,265 C310.22,261.7 311.18,258.78 312.6,256.2 C314.02,253.62 315.7,251.47 317.5,249.5 C319.3,247.53 321.15,246.02 323.4,244.4 C325.65,242.78 328.28,241.15 331,239.8 C333.72,238.45 336.53,237.22 339.7,236.3 C342.87,235.38 346.68,234.85 350,234.3 C353.32,233.75 355.93,233.45 359.6,233 C363.27,232.55 367.77,231.97 372,231.6 C376.23,231.23 380.67,231 385,230.8 C389.33,230.6 393.5,230.5 398,230.4 C402.5,230.3 408.67,230.17 412,230.2 C415.33,230.23 416.12,230.27 418,230.6 C419.88,230.93 422.42,231.93 423.3,232.2" fill="none" stroke="#c23a5a" stroke-width="1.15" stroke-linejoin="round" stroke-linecap="round" />
<path d="M287.6,310.1 C289.17,310.02 293.77,309.87 297,309.6 C300.23,309.33 304,309.27 307,308.5 C310,307.73 312.57,306.48 315,305 C317.43,303.52 319.43,301.68 321.6,299.6 C323.77,297.52 325.88,295.22 328,292.5 C330.12,289.78 332.13,286.38 334.3,283.3 C336.47,280.22 338.58,277.02 341,274 C343.42,270.98 346.47,268.12 348.8,265.2 C351.13,262.28 353.2,258.9 355,256.5 C356.8,254.1 357.77,252.72 359.6,250.8 C361.43,248.88 363.77,246.72 366,245 C368.23,243.28 370.33,241.83 373,240.5 C375.67,239.17 378.83,237.95 382,237 C385.17,236.05 388.67,235.38 392,234.8 C395.33,234.22 399.17,233.77 402,233.5 C404.83,233.23 407.83,233.25 409,233.2" fill="none" stroke="#c23a5a" stroke-width="1.15" stroke-linejoin="round" stroke-linecap="round" />
<path d="M291.4,276.1 C291.63,274.75 292.33,270.35 292.8,268 C293.27,265.65 293.62,263.97 294.2,262 C294.78,260.03 295.33,257.95 296.3,256.2 C297.27,254.45 298.5,252.87 300,251.5 C301.5,250.13 303.63,248.87 305.3,248 C306.97,247.13 308.18,246.75 310,246.3 C311.82,245.85 312.87,245.57 316.2,245.3 C319.53,245.03 322.7,244.85 330,244.7 C337.3,244.55 350,244.47 360,244.4 C370,244.33 381.33,244.37 390,244.3 C398.67,244.23 407,244.13 412,244 C417,243.87 418,243.77 420,243.5 C422,243.23 423.33,242.58 424,242.4" fill="none" stroke="#3f6990" stroke-width="1.1" stroke-linejoin="round" stroke-linecap="round" />
<path d="M291.4,276.1 C292.33,276.22 294.68,276.73 297,276.8 C299.32,276.87 302.3,276.97 305.3,276.5 C308.3,276.03 311.68,274.97 315,274 C318.32,273.03 321.87,271.87 325.2,270.7 C328.53,269.53 331.98,268.22 335,267 C338.02,265.78 340.47,264.57 343.3,263.4 C346.13,262.23 349.28,260.9 352,260 C354.72,259.1 356.93,258.57 359.6,258 C362.27,257.43 364.6,256.9 368,256.6 C371.4,256.3 375.5,256.28 380,256.2 C384.5,256.12 390.67,256.1 395,256.1 C399.33,256.1 404.17,256.18 406,256.2" fill="none" stroke="#3f6990" stroke-width="1.1" stroke-linejoin="round" stroke-linecap="round" />
<text x="240.6" y="223.4" font-size="8.6" text-anchor="start" font-weight="normal" fill="#111"  stroke="#111" stroke-width="0.1">EI</text>
<text x="248.1" y="225.6" font-size="6.0" text-anchor="start" font-weight="normal" fill="#111" textLength="12.6" lengthAdjust="spacingAndGlyphs" stroke="#111" stroke-width="0.1">95%</text>
<line x1="261.6" y1="225.4" x2="278.64" y2="230.68" stroke="#111" stroke-width="1.15" />
<polygon points="281.6,231.6 277.68,232.08 278.64,228.99" fill="#111"/>
<text x="296.2" y="221.6" font-size="8.6" fill="#111" stroke="#111" stroke-width="0.1">EI<tspan font-size="5.8" dy="2.1">max</tspan></text>
<line x1="293.3" y1="223.2" x2="288.89" y2="226.46" stroke="#111" stroke-width="1.15" />
<polygon points="286.4,228.3 288.33,224.86 290.26,227.46" fill="#111"/>
<text x="246.6" y="312.2" font-size="8.6" fill="#111" stroke="#111" stroke-width="0.1">EI<tspan font-size="5.5" dy="1.8">min</tspan></text>
<line x1="266" y1="310.2" x2="278.3" y2="310.2" stroke="#111" stroke-width="1.15" />
<polygon points="281.4,310.2 277.8,311.82 277.8,308.58" fill="#111"/>
<text x="367.5" y="220.3" font-size="8.8" text-anchor="start" font-weight="normal" fill="#111" stroke="#111" stroke-width="0.18" textLength="50.5" lengthAdjust="spacingAndGlyphs">Deoxygenation</text>
<line x1="418" y1="225.2" x2="407.4" y2="225.2" stroke="#111" stroke-width="1.15" />
<polygon points="404.3,225.2 407.9,223.58 407.9,226.82" fill="#111"/>
<text transform="translate(342.6,296.6) rotate(-50)" font-size="9.4" fill="#111" stroke="#111" stroke-width="0.2" textLength="50.5" lengthAdjust="spacingAndGlyphs">Reoxygenation</text>
<line x1="332.7" y1="291.7" x2="341.85" y2="281.33" stroke="#111" stroke-width="1.2" />
<polygon points="343.9,279 342.73,282.77 340.3,280.63" fill="#111"/>
<text x="361" y="298.4" font-size="8.2" text-anchor="start" font-weight="normal" fill="#111"  stroke="#111" stroke-width="0.1">PoS</text>
<line x1="367.2" y1="303" x2="361.54" y2="308.95" stroke="#111" stroke-width="1.15" />
<polygon points="359.4,311.2 360.71,307.48 363.05,309.71" fill="#111"/>
<line x1="425.6" y1="258.5" x2="439" y2="258.5" stroke="#6cb86c" stroke-width="1.2" />
<text x="441.6" y="260.9" font-size="8.2" text-anchor="start" font-weight="normal" fill="#222"  stroke="#222" stroke-width="0.1">HbAA</text>
<line x1="425.6" y1="270.6" x2="439" y2="270.6" stroke="#4a6d90" stroke-width="1.2" />
<text x="441.6" y="273" font-size="8.2" text-anchor="start" font-weight="normal" fill="#222"  stroke="#222" stroke-width="0.1">HbSC</text>
<line x1="425.6" y1="282.7" x2="439" y2="282.7" stroke="#c44a66" stroke-width="1.2" />
<text x="441.6" y="285.1" font-size="8.2" text-anchor="start" font-weight="normal" fill="#222"  stroke="#222" stroke-width="0.1">HbSS</text>
<text x="7.9" y="369.7" font-size="11.5" text-anchor="start" font-weight="bold" fill="#000" stroke="#000" stroke-width="0.35">G</text>
<text x="71" y="380.9" font-size="10" fill="#111" stroke="#111" stroke-width="0.1">EI<tspan font-size="7.2" dy="1.6">max</tspan></text>
<line x1="50.5" y1="391.5" x2="50.5" y2="489.6" stroke="#111" stroke-width="1.3" />
<line x1="47" y1="489" x2="50" y2="489" stroke="#111" stroke-width="1.1" />
<text x="43.7" y="491.8" font-size="8.4" text-anchor="end" font-weight="normal" fill="#1a1a1a"  stroke="#1a1a1a" stroke-width="0.1">0.0</text>
<line x1="47" y1="465.28" x2="50" y2="465.28" stroke="#111" stroke-width="1.1" />
<text x="43.7" y="468.08" font-size="8.4" text-anchor="end" font-weight="normal" fill="#1a1a1a"  stroke="#1a1a1a" stroke-width="0.1">0.2</text>
<line x1="47" y1="441.56" x2="50" y2="441.56" stroke="#111" stroke-width="1.1" />
<text x="43.7" y="444.36" font-size="8.4" text-anchor="end" font-weight="normal" fill="#1a1a1a"  stroke="#1a1a1a" stroke-width="0.1">0.4</text>
<line x1="47" y1="417.84" x2="50" y2="417.84" stroke="#111" stroke-width="1.1" />
<text x="43.7" y="420.64" font-size="8.4" text-anchor="end" font-weight="normal" fill="#1a1a1a"  stroke="#1a1a1a" stroke-width="0.1">0.6</text>
<line x1="47" y1="394.12" x2="50" y2="394.12" stroke="#111" stroke-width="1.1" />
<text x="43.7" y="396.92" font-size="8.4" text-anchor="end" font-weight="normal" fill="#1a1a1a"  stroke="#1a1a1a" stroke-width="0.1">0.8</text>
<line x1="49.4" y1="489.5" x2="113.8" y2="489.5" stroke="#111" stroke-width="1.3" />
<line x1="62.5" y1="489" x2="62.5" y2="492" stroke="#111" stroke-width="1.1" />
<line x1="81.3" y1="489" x2="81.3" y2="492" stroke="#111" stroke-width="1.1" />
<line x1="100.5" y1="489" x2="100.5" y2="492" stroke="#111" stroke-width="1.1" />
<text transform="translate(65.2,500.6) rotate(-45)" font-size="8.6" text-anchor="end" fill="#111" stroke="#111" stroke-width="0.1" textLength="20.51" lengthAdjust="spacingAndGlyphs">HbAA</text>
<text transform="translate(84,500.6) rotate(-45)" font-size="8.6" text-anchor="end" fill="#111" stroke="#111" stroke-width="0.1" textLength="20.94" lengthAdjust="spacingAndGlyphs">HbSC</text>
<text transform="translate(103.2,500.6) rotate(-45)" font-size="8.6" text-anchor="end" fill="#111" stroke="#111" stroke-width="0.1" textLength="20.51" lengthAdjust="spacingAndGlyphs">HbSS</text>
<text transform="translate(26.2,440.2) rotate(-90)" font-size="10" text-anchor="middle" fill="#111" stroke="#111" stroke-width="0.34" textLength="64.3" lengthAdjust="spacingAndGlyphs">Elongation index (EI)</text>
<path d="M61.8,396 V393 H102.5 V396" fill="none" stroke="#444" stroke-width="0.9"/>
<path d="M79.15,388L79.15,390M78.28,388.5L80.02,389.5M80.02,388.5L78.28,389.5" stroke="#111" stroke-width="0.75" fill="none"/>
<path d="M82.15,388L82.15,390M81.28,388.5L83.02,389.5M83.02,388.5L81.28,389.5" stroke="#111" stroke-width="0.75" fill="none"/>
<path d="M85.15,388L85.15,390M84.28,388.5L86.02,389.5M86.02,388.5L84.28,389.5" stroke="#111" stroke-width="0.75" fill="none"/>
<path d="M61.8,409.3 V406.3 H82.5 V409.3" fill="none" stroke="#444" stroke-width="0.9"/>
<path d="M69.15,401.3L69.15,403.3M68.28,401.8L70.02,402.8M70.02,401.8L68.28,402.8" stroke="#111" stroke-width="0.75" fill="none"/>
<path d="M72.15,401.3L72.15,403.3M71.28,401.8L73.02,402.8M73.02,401.8L71.28,402.8" stroke="#111" stroke-width="0.75" fill="none"/>
<path d="M75.15,401.3L75.15,403.3M74.28,401.8L76.02,402.8M76.02,401.8L74.28,402.8" stroke="#111" stroke-width="0.75" fill="none"/>
<path d="M80.8,419.3 V416.3 H101.3 V419.3" fill="none" stroke="#7d96ad" stroke-width="0.9"/>
<path d="M88.05,411.3L88.05,413.3M87.18,411.8L88.92,412.8M88.92,411.8L87.18,412.8" stroke="#111" stroke-width="0.75" fill="none"/>
<path d="M91.05,411.3L91.05,413.3M90.18,411.8L91.92,412.8M91.92,411.8L90.18,412.8" stroke="#111" stroke-width="0.75" fill="none"/>
<path d="M94.05,411.3L94.05,413.3M93.18,411.8L94.92,412.8M94.92,411.8L93.18,412.8" stroke="#111" stroke-width="0.75" fill="none"/>
<circle cx="58.5" cy="423.5" r="2.0" fill="none" stroke="#35a846" stroke-width="1.0"/>
<circle cx="60.5" cy="422.5" r="2.0" fill="none" stroke="#35a846" stroke-width="1.0"/>
<circle cx="62.5" cy="423.2" r="2.0" fill="none" stroke="#35a846" stroke-width="1.0"/>
<circle cx="64.5" cy="422.3" r="2.0" fill="none" stroke="#35a846" stroke-width="1.0"/>
<circle cx="66.5" cy="423.5" r="2.0" fill="none" stroke="#35a846" stroke-width="1.0"/>
<circle cx="59.5" cy="425.5" r="2.0" fill="none" stroke="#35a846" stroke-width="1.0"/>
<circle cx="61.8" cy="425.8" r="2.0" fill="none" stroke="#35a846" stroke-width="1.0"/>
<circle cx="64" cy="425" r="2.0" fill="none" stroke="#35a846" stroke-width="1.0"/>
<circle cx="66" cy="425.5" r="2.0" fill="none" stroke="#35a846" stroke-width="1.0"/>
<circle cx="63" cy="424.3" r="2.0" fill="none" stroke="#35a846" stroke-width="1.0"/>
<circle cx="60" cy="424" r="2.0" fill="none" stroke="#35a846" stroke-width="1.0"/>
<circle cx="65.3" cy="424" r="2.0" fill="none" stroke="#35a846" stroke-width="1.0"/>
<line x1="57.8" y1="424" x2="67.8" y2="424" stroke="#1e5c2a" stroke-width="1.5" />
<circle cx="78.5" cy="445" r="2.1" fill="none" stroke="#255886" stroke-width="1.0"/>
<circle cx="82" cy="444.3" r="2.1" fill="none" stroke="#255886" stroke-width="1.0"/>
<circle cx="85.2" cy="445.5" r="2.1" fill="none" stroke="#255886" stroke-width="1.0"/>
<circle cx="77.5" cy="448.5" r="2.1" fill="none" stroke="#255886" stroke-width="1.0"/>
<circle cx="80.5" cy="448" r="2.1" fill="none" stroke="#255886" stroke-width="1.0"/>
<circle cx="84" cy="448.5" r="2.1" fill="none" stroke="#255886" stroke-width="1.0"/>
<circle cx="86" cy="450.5" r="2.1" fill="none" stroke="#255886" stroke-width="1.0"/>
<circle cx="79" cy="451.5" r="2.1" fill="none" stroke="#255886" stroke-width="1.0"/>
<circle cx="82.5" cy="452" r="2.1" fill="none" stroke="#255886" stroke-width="1.0"/>
<circle cx="80" cy="455" r="2.1" fill="none" stroke="#255886" stroke-width="1.0"/>
<circle cx="84" cy="455.5" r="2.1" fill="none" stroke="#255886" stroke-width="1.0"/>
<circle cx="78.3" cy="458.2" r="2.1" fill="none" stroke="#255886" stroke-width="1.0"/>
<circle cx="81.8" cy="450" r="2.1" fill="none" stroke="#255886" stroke-width="1.0"/>
<line x1="76.1" y1="450.2" x2="87.1" y2="450.2" stroke="#163a5e" stroke-width="1.5" />
<line x1="81.6" y1="446" x2="81.6" y2="455" stroke="#255886" stroke-width="0.9" />
<line x1="79.1" y1="446" x2="84.1" y2="446" stroke="#255886" stroke-width="0.9" />
<line x1="79.1" y1="455" x2="84.1" y2="455" stroke="#255886" stroke-width="0.9" />
<circle cx="101.7" cy="432.6" r="2.45" fill="none" stroke="#c8203f" stroke-width="1.0"/>
<circle cx="95.9" cy="435.7" r="2.45" fill="none" stroke="#c8203f" stroke-width="1.0"/>
<circle cx="105" cy="436.6" r="2.45" fill="none" stroke="#c8203f" stroke-width="1.0"/>
<circle cx="96.4" cy="441.7" r="2.45" fill="none" stroke="#c8203f" stroke-width="1.0"/>
<circle cx="101.9" cy="441.7" r="2.45" fill="none" stroke="#c8203f" stroke-width="1.0"/>
<circle cx="99.7" cy="437.9" r="2.45" fill="none" stroke="#c8203f" stroke-width="1.0"/>
<circle cx="103.3" cy="439.5" r="2.45" fill="none" stroke="#c8203f" stroke-width="1.0"/>
<line x1="95" y1="437.8" x2="106" y2="437.8" stroke="#7a1428" stroke-width="1.5" />
<text x="129.7" y="369.7" font-size="11.5" text-anchor="start" font-weight="bold" fill="#000" stroke="#000" stroke-width="0.35">H</text>
<text x="201.6" y="385.8" font-size="9.8" text-anchor="middle" font-weight="normal" fill="#111" textLength="17.6" lengthAdjust="spacingAndGlyphs" stroke="#111" stroke-width="0.1">PoS</text>
<line x1="169.5" y1="391.5" x2="169.5" y2="489.6" stroke="#111" stroke-width="1.3" />
<line x1="166.3" y1="489" x2="169.3" y2="489" stroke="#111" stroke-width="1.1" />
<text x="163" y="491.8" font-size="8.4" text-anchor="end" font-weight="normal" fill="#1a1a1a"  stroke="#1a1a1a" stroke-width="0.1">0</text>
<line x1="166.3" y1="465.25" x2="169.3" y2="465.25" stroke="#111" stroke-width="1.1" />
<text x="163" y="468.05" font-size="8.4" text-anchor="end" font-weight="normal" fill="#1a1a1a"  stroke="#1a1a1a" stroke-width="0.1">20</text>
<line x1="166.3" y1="441.5" x2="169.3" y2="441.5" stroke="#111" stroke-width="1.1" />
<text x="163" y="444.3" font-size="8.4" text-anchor="end" font-weight="normal" fill="#1a1a1a"  stroke="#1a1a1a" stroke-width="0.1">40</text>
<line x1="166.3" y1="417.75" x2="169.3" y2="417.75" stroke="#111" stroke-width="1.1" />
<text x="163" y="420.55" font-size="8.4" text-anchor="end" font-weight="normal" fill="#1a1a1a"  stroke="#1a1a1a" stroke-width="0.1">60</text>
<line x1="166.3" y1="394" x2="169.3" y2="394" stroke="#111" stroke-width="1.1" />
<text x="163" y="396.8" font-size="8.4" text-anchor="end" font-weight="normal" fill="#1a1a1a"  stroke="#1a1a1a" stroke-width="0.1">80</text>
<line x1="168.7" y1="489.5" x2="233.8" y2="489.5" stroke="#111" stroke-width="1.3" />
<line x1="187.5" y1="489" x2="187.5" y2="492" stroke="#111" stroke-width="1.1" />
<line x1="214.5" y1="489" x2="214.5" y2="492" stroke="#111" stroke-width="1.1" />
<text transform="translate(190.9,499.8) rotate(-45)" font-size="8.6" text-anchor="end" fill="#111" stroke="#111" stroke-width="0.1" textLength="20.94" lengthAdjust="spacingAndGlyphs">HbSC</text>
<text transform="translate(217.9,499.8) rotate(-45)" font-size="8.6" text-anchor="end" fill="#111" stroke="#111" stroke-width="0.1" textLength="20.51" lengthAdjust="spacingAndGlyphs">HbSS</text>
<text transform="translate(147.4,440.3) rotate(-90)" font-size="9.4" text-anchor="middle" fill="#111" stroke="#111" stroke-width="0.24" textLength="38.5" lengthAdjust="spacingAndGlyphs">pO2 (mmHg)</text>
<path d="M187,398 V395 H215.8 V398" fill="none" stroke="#7d96ad" stroke-width="0.9"/>
<path d="M198.4,390L198.4,392M197.53,390.5L199.27,391.5M199.27,390.5L197.53,391.5" stroke="#111" stroke-width="0.75" fill="none"/>
<path d="M201.4,390L201.4,392M200.53,390.5L202.27,391.5M202.27,390.5L200.53,391.5" stroke="#111" stroke-width="0.75" fill="none"/>
<path d="M204.4,390L204.4,392M203.53,390.5L205.27,391.5M205.27,390.5L203.53,391.5" stroke="#111" stroke-width="0.75" fill="none"/>
<circle cx="187.8" cy="425" r="2.35" fill="none" stroke="#255886" stroke-width="1.05"/>
<circle cx="183.2" cy="429.9" r="2.35" fill="none" stroke="#255886" stroke-width="1.05"/>
<circle cx="192.4" cy="430.7" r="2.35" fill="none" stroke="#255886" stroke-width="1.05"/>
<circle cx="187.4" cy="433.7" r="2.35" fill="none" stroke="#255886" stroke-width="1.05"/>
<circle cx="180.6" cy="439.8" r="2.35" fill="none" stroke="#255886" stroke-width="1.05"/>
<circle cx="185.5" cy="439.4" r="2.35" fill="none" stroke="#255886" stroke-width="1.05"/>
<circle cx="185.9" cy="445.1" r="2.35" fill="none" stroke="#255886" stroke-width="1.05"/>
<circle cx="189.5" cy="443.5" r="2.35" fill="none" stroke="#255886" stroke-width="1.05"/>
<circle cx="181" cy="457.7" r="2.35" fill="none" stroke="#255886" stroke-width="1.05"/>
<circle cx="185.1" cy="457" r="2.35" fill="none" stroke="#255886" stroke-width="1.05"/>
<circle cx="189.7" cy="457.2" r="2.35" fill="none" stroke="#255886" stroke-width="1.05"/>
<circle cx="194.3" cy="457" r="2.35" fill="none" stroke="#255886" stroke-width="1.05"/>
<line x1="178.8" y1="442.7" x2="196.4" y2="442.7" stroke="#163a5e" stroke-width="1.5" />
<line x1="187.6" y1="432" x2="187.6" y2="456" stroke="#255886" stroke-width="0.9" />
<line x1="187.6" y1="432" x2="187.6" y2="432" stroke="#255886" stroke-width="0.9" />
<line x1="187.6" y1="456" x2="187.6" y2="456" stroke="#255886" stroke-width="0.9" />
<circle cx="212.4" cy="406.7" r="2.3" fill="none" stroke="#c8203f" stroke-width="1.0"/>
<circle cx="207.5" cy="410.2" r="2.3" fill="none" stroke="#c8203f" stroke-width="1.0"/>
<circle cx="217.2" cy="409.2" r="2.3" fill="none" stroke="#c8203f" stroke-width="1.0"/>
<circle cx="221.5" cy="410.8" r="2.3" fill="none" stroke="#c8203f" stroke-width="1.0"/>
<circle cx="207.8" cy="415.9" r="2.3" fill="none" stroke="#c8203f" stroke-width="1.0"/>
<circle cx="212.1" cy="412.9" r="2.3" fill="none" stroke="#c8203f" stroke-width="1.0"/>
<circle cx="217" cy="415.1" r="2.3" fill="none" stroke="#c8203f" stroke-width="1.0"/>
<line x1="205.5" y1="411.3" x2="223.5" y2="411.3" stroke="#7a1428" stroke-width="1.5" />
<line x1="214.5" y1="408" x2="214.5" y2="414.5" stroke="#c8203f" stroke-width="0.9" />
<line x1="214.5" y1="408" x2="214.5" y2="408" stroke="#c8203f" stroke-width="0.9" />
<line x1="214.5" y1="414.5" x2="214.5" y2="414.5" stroke="#c8203f" stroke-width="0.9" />
<text x="249" y="369.7" font-size="11.5" text-anchor="start" font-weight="bold" fill="#000" stroke="#000" stroke-width="0.35">I</text>
<text x="309.8" y="382.5" font-size="10" fill="#111" stroke="#111" stroke-width="0.1">EI<tspan font-size="7.2" dy="1.7">min</tspan></text>
<line x1="287.5" y1="391.5" x2="287.5" y2="489.8" stroke="#111" stroke-width="1.3" />
<line x1="284.5" y1="489.56" x2="287.5" y2="489.56" stroke="#111" stroke-width="1.1" />
<text x="281.2" y="492.36" font-size="8.4" text-anchor="end" font-weight="normal" fill="#1a1a1a"  stroke="#1a1a1a" stroke-width="0.1">−0.2</text>
<line x1="284.5" y1="470.5" x2="287.5" y2="470.5" stroke="#111" stroke-width="1.1" />
<text x="281.2" y="473.3" font-size="8.4" text-anchor="end" font-weight="normal" fill="#1a1a1a"  stroke="#1a1a1a" stroke-width="0.1">0.0</text>
<line x1="284.5" y1="451.44" x2="287.5" y2="451.44" stroke="#111" stroke-width="1.1" />
<text x="281.2" y="454.24" font-size="8.4" text-anchor="end" font-weight="normal" fill="#1a1a1a"  stroke="#1a1a1a" stroke-width="0.1">0.2</text>
<line x1="284.5" y1="432.38" x2="287.5" y2="432.38" stroke="#111" stroke-width="1.1" />
<text x="281.2" y="435.18" font-size="8.4" text-anchor="end" font-weight="normal" fill="#1a1a1a"  stroke="#1a1a1a" stroke-width="0.1">0.4</text>
<line x1="284.5" y1="413.32" x2="287.5" y2="413.32" stroke="#111" stroke-width="1.1" />
<text x="281.2" y="416.12" font-size="8.4" text-anchor="end" font-weight="normal" fill="#1a1a1a"  stroke="#1a1a1a" stroke-width="0.1">0.6</text>
<line x1="284.5" y1="394.26" x2="287.5" y2="394.26" stroke="#111" stroke-width="1.1" />
<text x="281.2" y="397.06" font-size="8.4" text-anchor="end" font-weight="normal" fill="#1a1a1a"  stroke="#1a1a1a" stroke-width="0.1">0.8</text>
<line x1="286.9" y1="489.5" x2="351.3" y2="489.5" stroke="#111" stroke-width="1.3" />
<line x1="300.5" y1="489.2" x2="300.5" y2="492.2" stroke="#111" stroke-width="1.1" />
<line x1="319.5" y1="489.2" x2="319.5" y2="492.2" stroke="#111" stroke-width="1.1" />
<line x1="338.8" y1="489.2" x2="338.8" y2="492.2" stroke="#111" stroke-width="1.1" />
<text transform="translate(303.9,499.4) rotate(-45)" font-size="8.6" text-anchor="end" fill="#111" stroke="#111" stroke-width="0.1" textLength="20.51" lengthAdjust="spacingAndGlyphs">HbAA</text>
<text transform="translate(322.9,499.4) rotate(-45)" font-size="8.6" text-anchor="end" fill="#111" stroke="#111" stroke-width="0.1" textLength="20.94" lengthAdjust="spacingAndGlyphs">HbSC</text>
<text transform="translate(342.2,499.4) rotate(-45)" font-size="8.6" text-anchor="end" fill="#111" stroke="#111" stroke-width="0.1" textLength="20.51" lengthAdjust="spacingAndGlyphs">HbSS</text>
<text transform="translate(261.2,439.5) rotate(-90)" font-size="10" text-anchor="middle" fill="#111" stroke="#111" stroke-width="0.34" textLength="64.7" lengthAdjust="spacingAndGlyphs">Elongation index (EI)</text>
<line x1="288.5" y1="470.5" x2="352" y2="470.5" stroke="#5a3a40" stroke-width="0.8" stroke-dasharray="1,1.5"/>
<path d="M300.5,396.8 V393.8 H340.5 V396.8" fill="none" stroke="#444" stroke-width="0.9"/>
<path d="M317.5,388.8L317.5,390.8M316.63,389.3L318.37,390.3M318.37,389.3L316.63,390.3" stroke="#111" stroke-width="0.75" fill="none"/>
<path d="M320.5,388.8L320.5,390.8M319.63,389.3L321.37,390.3M321.37,389.3L319.63,390.3" stroke="#111" stroke-width="0.75" fill="none"/>
<path d="M323.5,388.8L323.5,390.8M322.63,389.3L324.37,390.3M324.37,389.3L322.63,390.3" stroke="#111" stroke-width="0.75" fill="none"/>
<path d="M300.5,410.5 V407.5 H320.5 V410.5" fill="none" stroke="#444" stroke-width="0.9"/>
<path d="M307.5,402.5L307.5,404.5M306.63,403L308.37,404M308.37,403L306.63,404" stroke="#111" stroke-width="0.75" fill="none"/>
<path d="M310.5,402.5L310.5,404.5M309.63,403L311.37,404M311.37,403L309.63,404" stroke="#111" stroke-width="0.75" fill="none"/>
<path d="M313.5,402.5L313.5,404.5M312.63,403L314.37,404M314.37,403L312.63,404" stroke="#111" stroke-width="0.75" fill="none"/>
<path d="M319.5,433.5 V430.5 H340 V433.5" fill="none" stroke="#7d96ad" stroke-width="0.9"/>
<path d="M326.75,425.5L326.75,427.5M325.88,426L327.62,427M327.62,426L325.88,427" stroke="#111" stroke-width="0.75" fill="none"/>
<path d="M329.75,425.5L329.75,427.5M328.88,426L330.62,427M330.62,426L328.88,427" stroke="#111" stroke-width="0.75" fill="none"/>
<path d="M332.75,425.5L332.75,427.5M331.88,426L333.62,427M333.62,426L331.88,427" stroke="#111" stroke-width="0.75" fill="none"/>
<circle cx="296.5" cy="418.5" r="2.0" fill="none" stroke="#35a846" stroke-width="1.0"/>
<circle cx="298.5" cy="417.5" r="2.0" fill="none" stroke="#35a846" stroke-width="1.0"/>
<circle cx="300.5" cy="418.5" r="2.0" fill="none" stroke="#35a846" stroke-width="1.0"/>
<circle cx="302.5" cy="417.5" r="2.0" fill="none" stroke="#35a846" stroke-width="1.0"/>
<circle cx="304.5" cy="418.8" r="2.0" fill="none" stroke="#35a846" stroke-width="1.0"/>
<circle cx="297.5" cy="420.3" r="2.0" fill="none" stroke="#35a846" stroke-width="1.0"/>
<circle cx="300" cy="420.5" r="2.0" fill="none" stroke="#35a846" stroke-width="1.0"/>
<circle cx="302.5" cy="420.5" r="2.0" fill="none" stroke="#35a846" stroke-width="1.0"/>
<circle cx="299.5" cy="419" r="2.0" fill="none" stroke="#35a846" stroke-width="1.0"/>
<circle cx="303.5" cy="419.8" r="2.0" fill="none" stroke="#35a846" stroke-width="1.0"/>
<line x1="296.1" y1="419" x2="305.1" y2="419" stroke="#1e5c2a" stroke-width="1.5" />
<circle cx="319.5" cy="446" r="2.1" fill="none" stroke="#255886" stroke-width="1.0"/>
<circle cx="316" cy="450" r="2.1" fill="none" stroke="#255886" stroke-width="1.0"/>
<circle cx="322" cy="449" r="2.1" fill="none" stroke="#255886" stroke-width="1.0"/>
<circle cx="318" cy="453" r="2.1" fill="none" stroke="#255886" stroke-width="1.0"/>
<circle cx="324" cy="452.5" r="2.1" fill="none" stroke="#255886" stroke-width="1.0"/>
<circle cx="320" cy="456" r="2.1" fill="none" stroke="#255886" stroke-width="1.0"/>
<circle cx="316.5" cy="457.5" r="2.1" fill="none" stroke="#255886" stroke-width="1.0"/>
<circle cx="323.5" cy="458" r="2.1" fill="none" stroke="#255886" stroke-width="1.0"/>
<circle cx="318" cy="461.5" r="2.1" fill="none" stroke="#255886" stroke-width="1.0"/>
<circle cx="321" cy="460" r="2.1" fill="none" stroke="#255886" stroke-width="1.0"/>
<circle cx="325.5" cy="455" r="2.1" fill="none" stroke="#255886" stroke-width="1.0"/>
<line x1="315.2" y1="454.5" x2="325.2" y2="454.5" stroke="#163a5e" stroke-width="1.5" />
<line x1="320.2" y1="450" x2="320.2" y2="459" stroke="#255886" stroke-width="0.9" />
<line x1="320.2" y1="450" x2="320.2" y2="450" stroke="#255886" stroke-width="0.9" />
<line x1="320.2" y1="459" x2="320.2" y2="459" stroke="#255886" stroke-width="0.9" />
<circle cx="334.5" cy="469.5" r="2.1" fill="none" stroke="#c8203f" stroke-width="1.0"/>
<circle cx="337" cy="467.8" r="2.1" fill="none" stroke="#c8203f" stroke-width="1.0"/>
<circle cx="340" cy="468.5" r="2.1" fill="none" stroke="#c8203f" stroke-width="1.0"/>
<circle cx="342.5" cy="467.5" r="2.1" fill="none" stroke="#c8203f" stroke-width="1.0"/>
<circle cx="344.5" cy="469.5" r="2.1" fill="none" stroke="#c8203f" stroke-width="1.0"/>
<circle cx="336" cy="471" r="2.1" fill="none" stroke="#c8203f" stroke-width="1.0"/>
<circle cx="339.5" cy="470.8" r="2.1" fill="none" stroke="#c8203f" stroke-width="1.0"/>
<circle cx="342.5" cy="471.2" r="2.1" fill="none" stroke="#c8203f" stroke-width="1.0"/>
<circle cx="341" cy="473" r="2.1" fill="none" stroke="#c8203f" stroke-width="1.0"/>
<line x1="334.3" y1="470" x2="344.3" y2="470" stroke="#7a1428" stroke-width="1.5" />
<text x="367" y="369.8" font-size="11.5" text-anchor="start" font-weight="bold" fill="#000" stroke="#000" stroke-width="0.35">J</text>
<text x="434.6" y="383.6" font-size="10" fill="#111" stroke="#111" stroke-width="0.1">EI<tspan font-size="7.3" dy="2.2">recovery</tspan></text>
<line x1="404.5" y1="391.5" x2="404.5" y2="489.3" stroke="#111" stroke-width="1.3" />
<line x1="401.6" y1="488.7" x2="404.6" y2="488.7" stroke="#111" stroke-width="1.1" />
<text x="398.3" y="491.5" font-size="8.4" text-anchor="end" font-weight="normal" fill="#1a1a1a"  stroke="#1a1a1a" stroke-width="0.1">0.0</text>
<line x1="401.6" y1="457.26" x2="404.6" y2="457.26" stroke="#111" stroke-width="1.1" />
<text x="398.3" y="460.06" font-size="8.4" text-anchor="end" font-weight="normal" fill="#1a1a1a"  stroke="#1a1a1a" stroke-width="0.1">0.2</text>
<line x1="401.6" y1="425.82" x2="404.6" y2="425.82" stroke="#111" stroke-width="1.1" />
<text x="398.3" y="428.62" font-size="8.4" text-anchor="end" font-weight="normal" fill="#1a1a1a"  stroke="#1a1a1a" stroke-width="0.1">0.4</text>
<line x1="401.6" y1="394.38" x2="404.6" y2="394.38" stroke="#111" stroke-width="1.1" />
<text x="398.3" y="397.18" font-size="8.4" text-anchor="end" font-weight="normal" fill="#1a1a1a"  stroke="#1a1a1a" stroke-width="0.1">0.6</text>
<line x1="404" y1="488.5" x2="500" y2="488.5" stroke="#111" stroke-width="1.3" />
<line x1="418.5" y1="488.7" x2="418.5" y2="491.7" stroke="#111" stroke-width="1.1" />
<line x1="441.5" y1="488.7" x2="441.5" y2="491.7" stroke="#111" stroke-width="1.1" />
<line x1="464" y1="488.7" x2="464" y2="491.7" stroke="#111" stroke-width="1.1" />
<line x1="486.2" y1="488.7" x2="486.2" y2="491.7" stroke="#111" stroke-width="1.1" />
<text transform="translate(420.8,501.3) rotate(-45)" font-size="8.6" text-anchor="end" fill="#111" stroke="#111" stroke-width="0.1" textLength="46.36" lengthAdjust="spacingAndGlyphs">HbSC Elmax</text>
<text transform="translate(443.8,501.3) rotate(-45)" font-size="8.6" text-anchor="end" fill="#111" stroke="#111" stroke-width="0.1" textLength="62.12" lengthAdjust="spacingAndGlyphs">HbSC Elrecovery</text>
<text transform="translate(466.3,501.3) rotate(-45)" font-size="8.6" text-anchor="end" fill="#111" stroke="#111" stroke-width="0.1" textLength="45.91" lengthAdjust="spacingAndGlyphs">HbSS Elmax</text>
<text transform="translate(488.5,501.3) rotate(-45)" font-size="8.6" text-anchor="end" fill="#111" stroke="#111" stroke-width="0.1" textLength="61.67" lengthAdjust="spacingAndGlyphs">HbSS Elrecovery</text>
<text transform="translate(380.6,439.4) rotate(-90)" font-size="10" text-anchor="middle" fill="#111" stroke="#111" stroke-width="0.34" textLength="64.3" lengthAdjust="spacingAndGlyphs">Elongation index (EI)</text>
<path d="M418.5,422 V419 H442.5 V422" fill="none" stroke="#444" stroke-width="0.9"/>
<path d="M429,414L429,416M428.13,414.5L429.87,415.5M429.87,414.5L428.13,415.5" stroke="#111" stroke-width="0.75" fill="none"/>
<path d="M432,414L432,416M431.13,414.5L432.87,415.5M432.87,414.5L431.13,415.5" stroke="#111" stroke-width="0.75" fill="none"/>
<path d="M462.2,407.2 V404.2 H485.5 V407.2" fill="none" stroke="#7d96ad" stroke-width="0.9"/>
<text x="473.85" y="402" font-size="8" text-anchor="middle" font-weight="normal" fill="#222"  stroke="#222" stroke-width="0.1">ns</text>
<circle cx="414.1" cy="431.3" r="2.45" fill="none" stroke="#255886" stroke-width="1.1"/>
<circle cx="418.9" cy="432.7" r="2.45" fill="none" stroke="#255886" stroke-width="1.1"/>
<circle cx="424.2" cy="429.3" r="2.45" fill="none" stroke="#255886" stroke-width="1.1"/>
<circle cx="423.3" cy="435.1" r="2.45" fill="none" stroke="#255886" stroke-width="1.1"/>
<circle cx="414.5" cy="436.5" r="2.45" fill="none" stroke="#255886" stroke-width="1.1"/>
<circle cx="419" cy="437.5" r="2.45" fill="none" stroke="#255886" stroke-width="1.1"/>
<circle cx="416.1" cy="441.8" r="2.45" fill="none" stroke="#255886" stroke-width="1.1"/>
<circle cx="422.3" cy="441.3" r="2.45" fill="none" stroke="#255886" stroke-width="1.1"/>
<circle cx="419.4" cy="444.2" r="2.45" fill="none" stroke="#255886" stroke-width="1.1"/>
<circle cx="418.5" cy="447.6" r="2.45" fill="none" stroke="#255886" stroke-width="1.1"/>
<circle cx="413.8" cy="433.8" r="2.45" fill="none" stroke="#255886" stroke-width="1.1"/>
<line x1="411.6" y1="436" x2="426.6" y2="436" stroke="#163a5e" stroke-width="1.5" />
<polygon points="441,432.2 443.47,436.75 438.53,436.75" fill="none" stroke="#255886" stroke-width="1.1"/>
<polygon points="437,435.9 439.47,440.45 434.53,440.45" fill="none" stroke="#255886" stroke-width="1.1"/>
<polygon points="441.5,435.4 443.97,439.95 439.03,439.95" fill="none" stroke="#255886" stroke-width="1.1"/>
<polygon points="445.5,436.2 447.97,440.75 443.03,440.75" fill="none" stroke="#255886" stroke-width="1.1"/>
<polygon points="436.6,439.4 439.07,443.95 434.13,443.95" fill="none" stroke="#255886" stroke-width="1.1"/>
<polygon points="440.5,438.9 442.97,443.45 438.03,443.45" fill="none" stroke="#255886" stroke-width="1.1"/>
<polygon points="444.8,439.9 447.27,444.45 442.33,444.45" fill="none" stroke="#255886" stroke-width="1.1"/>
<polygon points="438.5,442.6 440.97,447.15 436.03,447.15" fill="none" stroke="#255886" stroke-width="1.1"/>
<polygon points="442.5,442.9 444.97,447.45 440.03,447.45" fill="none" stroke="#255886" stroke-width="1.1"/>
<polygon points="440.5,445.9 442.97,450.45 438.03,450.45" fill="none" stroke="#255886" stroke-width="1.1"/>
<polygon points="443.5,446.4 445.97,450.95 441.03,450.95" fill="none" stroke="#255886" stroke-width="1.1"/>
<polygon points="446,441.4 448.47,445.95 443.53,445.95" fill="none" stroke="#255886" stroke-width="1.1"/>
<polygon points="439,433.4 441.47,437.95 436.53,437.95" fill="none" stroke="#255886" stroke-width="1.1"/>
<polygon points="443,437.4 445.47,441.95 440.53,441.95" fill="none" stroke="#255886" stroke-width="1.1"/>
<polygon points="437.5,444.4 439.97,448.95 435.03,448.95" fill="none" stroke="#255886" stroke-width="1.1"/>
<line x1="435" y1="441.2" x2="448" y2="441.2" stroke="#163a5e" stroke-width="1.5" />
<circle cx="468.1" cy="413.6" r="2.45" fill="none" stroke="#c8203f" stroke-width="1.0"/>
<circle cx="458.3" cy="418.7" r="2.45" fill="none" stroke="#c8203f" stroke-width="1.0"/>
<circle cx="463" cy="418.3" r="2.45" fill="none" stroke="#c8203f" stroke-width="1.0"/>
<circle cx="468.1" cy="418.7" r="2.45" fill="none" stroke="#c8203f" stroke-width="1.0"/>
<circle cx="463" cy="421.5" r="2.45" fill="none" stroke="#c8203f" stroke-width="1.0"/>
<circle cx="460.9" cy="425.9" r="2.45" fill="none" stroke="#c8203f" stroke-width="1.0"/>
<circle cx="465.1" cy="425.9" r="2.45" fill="none" stroke="#c8203f" stroke-width="1.0"/>
<line x1="455.8" y1="420" x2="470.2" y2="420" stroke="#7a1428" stroke-width="1.5" />
<polygon points="479.1,415.9 481.76,420.8 476.44,420.8" fill="none" stroke="#c8203f" stroke-width="0.9"/>
<polygon points="483.3,415.9 485.96,420.8 480.64,420.8" fill="none" stroke="#c8203f" stroke-width="0.9"/>
<polygon points="486.3,415.5 488.96,420.4 483.64,420.4" fill="none" stroke="#c8203f" stroke-width="0.9"/>
<polygon points="490.1,411.7 492.76,416.6 487.44,416.6" fill="none" stroke="#c8203f" stroke-width="0.9"/>
<polygon points="491.3,417.2 493.96,422.1 488.64,422.1" fill="none" stroke="#c8203f" stroke-width="0.9"/>
<polygon points="484.6,429.4 487.26,434.3 481.94,434.3" fill="none" stroke="#c8203f" stroke-width="0.9"/>
<line x1="478.3" y1="420" x2="491.3" y2="420" stroke="#7a1428" stroke-width="1.5" />
<line x1="484.8" y1="413.8" x2="484.8" y2="426.3" stroke="#c8203f" stroke-width="0.9" />
<line x1="481.6" y1="413.8" x2="488" y2="413.8" stroke="#c8203f" stroke-width="0.9" />
<line x1="481.6" y1="426.3" x2="488" y2="426.3" stroke="#c8203f" stroke-width="0.9" />
<rect x="0.5" y="0.5" width="519" height="551" fill="none" stroke="#000" stroke-width="1.1"/>
</svg>
</body></html>
